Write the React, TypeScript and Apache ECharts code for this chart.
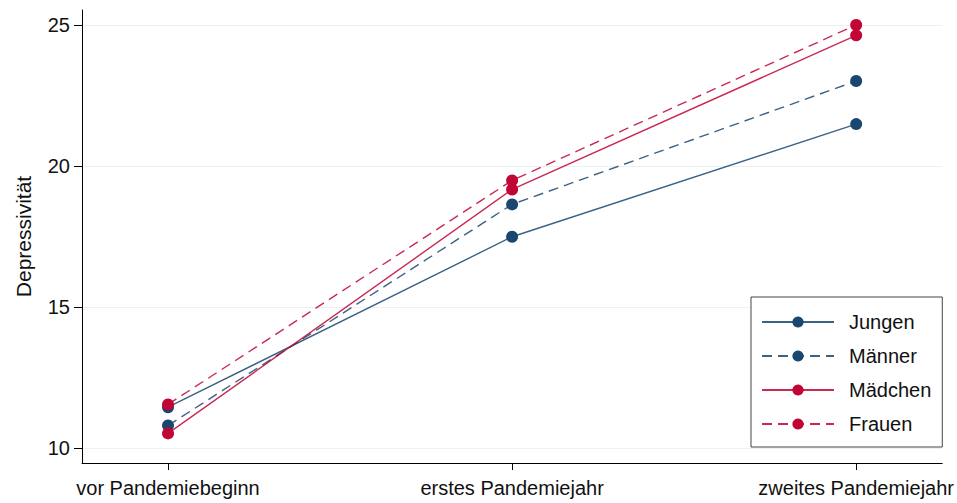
import React, { useEffect, useRef } from "react";
import * as echarts from "echarts";

const categories = ["vor Pandemiebeginn", "erstes Pandemiejahr", "zweites Pandemiejahr"];
const jungen = [11.45, 17.5, 21.5];
const maenner = [10.8, 18.65, 23.03];
const maedchen = [10.52, 19.18, 24.65];
const frauen = [11.55, 19.5, 25.02];
const yTicks = [10, 15, 20, 25];

const BLUE = "#1a476f";
const RED = "#c10534";

export default function App() {
  const ref = useRef<HTMLDivElement>(null);
  useEffect(() => {
    const chart = echarts.init(ref.current!, null, { renderer: "svg" });
    const mk = (name: string, data: number[], color: string, dashed: boolean) => ({
      name,
      type: "line",
      data: data.map((v, i) => [i, v]),
      symbol: "circle",
      symbolSize: 12,
      itemStyle: { color },
      lineStyle: { color, width: 1.4, opacity: 0.85, type: dashed ? [10, 6] : "solid" },
      z: 3,
    });
    chart.setOption({
      animation: false,
      textStyle: { fontFamily: "Liberation Sans, Arial, sans-serif" },
      grid: { left: 82, right: 14, top: 10, bottom: 40, containLabel: false },
      xAxis: {
        type: "value",
        min: -0.25,
        max: 2.25,
        axisLine: { show: true, onZero: false, lineStyle: { color: "#000", width: 1 } },
        axisTick: { show: true, customValues: [0, 1, 2], length: 7, lineStyle: { color: "#000" } },
        axisLabel: {
          customValues: [0, 1, 2],
          formatter: (v: number) => categories[Math.round(v)] ?? "",
          color: "#111",
          fontSize: 20,
          margin: 15,
        },
        splitLine: { show: false },
      },
      yAxis: {
        type: "value",
        min: 9.47,
        max: 25.55,
        name: "Depressivität",
        nameLocation: "middle",
        nameGap: 48,
        nameTextStyle: { color: "#111", fontSize: 21 },
        axisLine: { show: true, onZero: false, lineStyle: { color: "#000", width: 1 } },
        axisTick: { show: true, customValues: yTicks, length: 8, lineStyle: { color: "#000" } },
        axisLabel: { customValues: yTicks, color: "#111", fontSize: 20, margin: 12 },
        splitLine: { show: true, lineStyle: { color: "#eaf2f3", width: 1 } },
      },
      legend: {
        orient: "vertical",
        left: 751,
        top: 297,
        itemWidth: 72,
        itemHeight: 14,
        itemGap: 14,
        padding: [15, 11, 13, 10],
        borderColor: "#444",
        borderWidth: 1,
        backgroundColor: "#fff",
        textStyle: { color: "#111", fontSize: 20, padding: [0, 0, 0, 10] },
        data: ["Jungen", "Männer", "Mädchen", "Frauen"],
      },
      series: [
        mk("Jungen", jungen, BLUE, false),
        mk("Männer", maenner, BLUE, true),
        mk("Mädchen", maedchen, RED, false),
        mk("Frauen", frauen, RED, true),
      ],
    });
    return () => chart.dispose();
  }, []);
  return (
    <div
      ref={ref}
      style={{ position: "absolute", left: 0, top: 0, width: 957, height: 503, background: "#fff" }}
    />
  );
}
